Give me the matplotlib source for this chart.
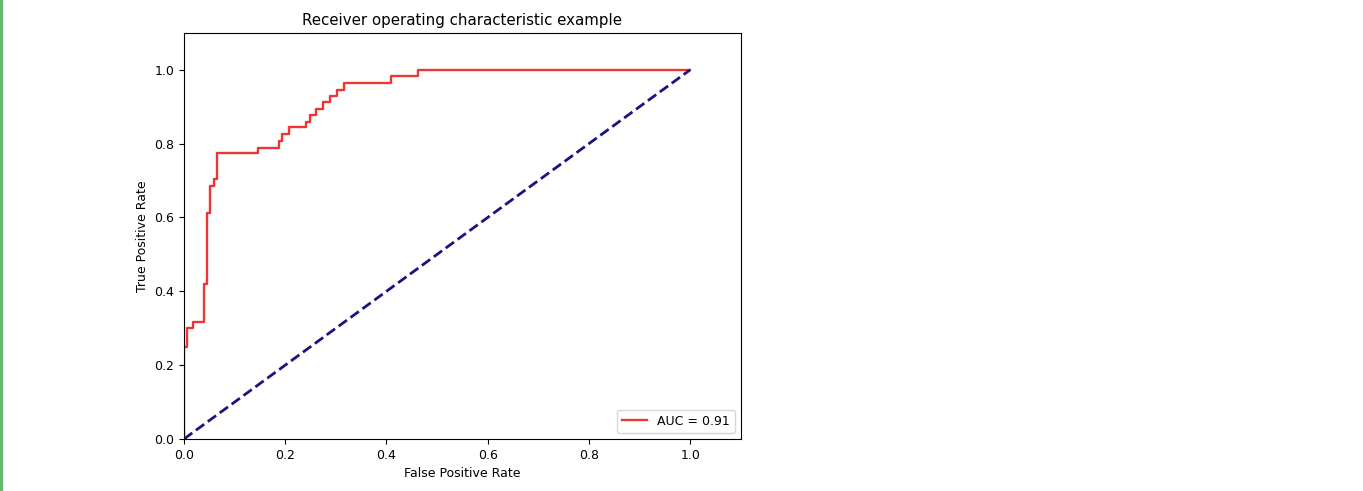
import matplotlib
matplotlib.use('Agg')
import matplotlib.pyplot as plt
from matplotlib.patches import Rectangle

# ROC step points
fpr = [0.0, 0.0, 0.006, 0.006, 0.017, 0.017, 0.039, 0.039, 0.045, 0.045,
       0.052, 0.052, 0.060, 0.060, 0.066, 0.066, 0.146, 0.146, 0.187, 0.187,
       0.193, 0.193, 0.208, 0.208, 0.241, 0.241, 0.248, 0.248, 0.261, 0.261,
       0.274, 0.274, 0.288, 0.288, 0.303, 0.303, 0.316, 0.316, 0.409, 0.409,
       0.463, 0.463, 1.0]
tpr = [0.0, 0.249, 0.249, 0.301, 0.301, 0.318, 0.318, 0.421, 0.421, 0.613,
       0.613, 0.684, 0.684, 0.703, 0.703, 0.774, 0.774, 0.789, 0.789, 0.807,
       0.807, 0.826, 0.826, 0.844, 0.844, 0.859, 0.859, 0.877, 0.877, 0.893,
       0.893, 0.912, 0.912, 0.930, 0.930, 0.946, 0.946, 0.963, 0.963, 0.984,
       0.984, 1.0, 1.0]
roc_auc = 0.91
chance_x = [0, 1]
chance_y = [0, 1]

fig = plt.figure(figsize=(13.63, 4.91), dpi=100)
ax = fig.add_axes([0.135, 0.106, 0.4085, 0.827])

ax.plot(fpr, tpr, color='#f03434', lw=1.7, label='AUC = %0.2f' % roc_auc)
ax.plot(chance_x, chance_y, color='#1a1480', lw=2, linestyle='--')
ax.set_xlim(0.0, 1.1)
ax.set_ylim(0.0, 1.1)
ax.set_xticks([0.0, 0.2, 0.4, 0.6, 0.8, 1.0])
ax.set_yticks([0.0, 0.2, 0.4, 0.6, 0.8, 1.0])
ax.tick_params(labelsize=9)
ax.set_xlabel('False Positive Rate', fontsize=9)
ax.set_ylabel('True Positive Rate', fontsize=9)
ax.set_title('Receiver operating characteristic example', fontsize=10.8)
ax.legend(loc='lower right', fontsize=9)

# notebook cell border on the left
fig.patches.append(Rectangle((0, 0), 2 / 1363, 1, transform=fig.transFigure,
                             color='#66bb6a', zorder=0))

fig.savefig('out.png', dpi=100)
plt.close(fig)
